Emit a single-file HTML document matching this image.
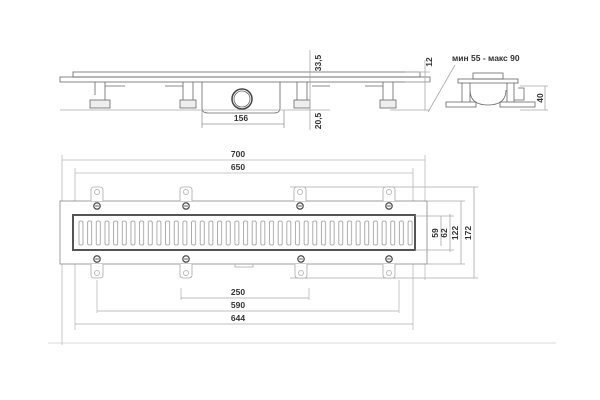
<!DOCTYPE html>
<html><head><style>body{margin:0;background:#fff}svg{display:block}text{font-family:"Liberation Sans",sans-serif;font-size:8.5px;fill:#333;font-weight:bold}</style></head><body>
<svg width="600" height="400" viewBox="0 0 600 400" xmlns="http://www.w3.org/2000/svg">
<defs>
<pattern id="sl" x="77" y="0" width="8.66" height="400" patternUnits="userSpaceOnUse">
<rect x="2" y="221" width="4" height="24" rx="1.5" fill="#fff" stroke="#999" stroke-width="0.8"/>
</pattern>
<g id="tabT"><path d="M-6,201 V190 q0,-3 3,-3 h6 q3,0 3,3 V201" fill="#fff" stroke="#aaa" stroke-width="0.8"/><circle cx="0" cy="192" r="2.5" fill="none" stroke="#bbb"/><circle cx="0" cy="206" r="3.2" fill="#fff" stroke="#555" stroke-width="1.3"/><line x1="-1.8" y1="206" x2="1.8" y2="206" stroke="#555"/></g>
<g id="tabB"><path d="M-6,264 V275 q0,3 3,3 h6 q3,0 3,-3 V264" fill="#fff" stroke="#aaa" stroke-width="0.8"/><circle cx="0" cy="273" r="2.5" fill="none" stroke="#bbb"/><circle cx="0" cy="259" r="3.2" fill="#fff" stroke="#555" stroke-width="1.3"/><line x1="-1.8" y1="259" x2="1.8" y2="259" stroke="#555"/></g>
</defs>
<g stroke="#666" fill="none" stroke-width="0.8">
<rect x="73" y="72" width="347" height="5" fill="#fff"/>
<rect x="60" y="77" width="370" height="5"/>
<path d="M95,82 V95 M105,82 V100 M183,82 V100 M193,82 V100 M297,82 V100 M307,82 V100 M383,82 V100 M393,82 V100"/>
<path d="M105,86 H125 M165,86 H183 M312,86 H330 M365,86 H383"/>
<path d="M202,82 V108 q0,5 6,5 H274 q6,0 6,-5 V82"/>
<rect x="90" y="100" width="20" height="8" fill="#eee"/><rect x="180" y="100" width="16" height="8" fill="#eee"/><rect x="294" y="100" width="16" height="8" fill="#eee"/><rect x="380" y="100" width="16" height="8" fill="#eee"/>
<circle cx="242" cy="99" r="10" stroke="#444" stroke-width="1.5"/>
<circle cx="242" cy="99" r="8"/>
<path d="M202,110 V128 M284,110 V128 M202,124 H284" stroke="#999"/>
<path d="M60,110 H330 M310,50 V130" stroke="#aaa"/>
<path d="M405,72 H430 M405,82 H430 M390,110 H430 M425,60 V110 M428,112 L455,65" stroke="#aaa"/>
<rect x="473" y="73" width="30" height="6" fill="#fff"/>
<rect x="458" y="79" width="60" height="4"/>
<path d="M462,83 V102 M470,83 V102 M507,83 V102 M514,83 V102 M470,90 q0,15 18,15 q18,0 18,-15 M518,88 H524 V100 H514"/>
<rect x="446" y="102" width="30" height="5"/><rect x="500" y="102" width="35" height="5"/>
<path d="M520,86 H548 M520,110 H548 M545,86 V110" stroke="#aaa"/>
<path d="M62,160 H425 M75,173 H413 M62,155 V345 M75,168 V330 M425,155 V280 M413,168 V330 M181,288 V300 M309,288 V300 M97,280 V313 M399,280 V313" stroke="#bbb"/>
<path d="M181,298 H309 M97,311 H399 M75,324 H413" stroke="#aaa"/>
<rect x="60" y="201" width="367" height="63" fill="#fff" stroke="#888"/>
<rect x="73" y="215" width="342" height="35" fill="#fff" stroke="#555" stroke-width="2"/>
<rect x="75" y="217" width="338" height="31" fill="url(#sl)" stroke="none"/>
<path d="M235,264 v3 h18 v-3" stroke="#aaa"/>
<path d="M290,187 H478 M427,201 H465 M415,216 H454 M427,264 H465 M415,250 H454 M290,278 H478 M474,187 V278 M461,201 V264 M450,214 V252 M441,216 V246" stroke="#aaa"/>
<path d="M48,343 H556" stroke="#ccc"/>
</g>
<use href="#tabT" x="97"/><use href="#tabT" x="186"/><use href="#tabT" x="300"/><use href="#tabT" x="389"/>
<use href="#tabB" x="97"/><use href="#tabB" x="186"/><use href="#tabB" x="301"/><use href="#tabB" x="389"/>
<text x="238" y="157" text-anchor="middle">700</text>
<text x="238" y="170" text-anchor="middle">650</text>
<text x="238" y="295" text-anchor="middle">250</text>
<text x="238" y="308" text-anchor="middle">590</text>
<text x="238" y="321" text-anchor="middle">644</text>
<text x="241" y="121" text-anchor="middle">156</text>
<text transform="translate(321,63) rotate(-90)" text-anchor="middle">33,5</text>
<text transform="translate(321,121) rotate(-90)" text-anchor="middle">20,5</text>
<text transform="translate(432,62) rotate(-90)" text-anchor="middle">12</text>
<text x="452" y="61">мин 55 - макс 90</text>
<text transform="translate(543,98) rotate(-90)" text-anchor="middle">40</text>
<text transform="translate(438,233) rotate(-90)" text-anchor="middle">59</text>
<text transform="translate(447,233) rotate(-90)" text-anchor="middle">62</text>
<text transform="translate(458,233) rotate(-90)" text-anchor="middle">122</text>
<text transform="translate(471,233) rotate(-90)" text-anchor="middle">172</text>
</svg>
</body></html>
